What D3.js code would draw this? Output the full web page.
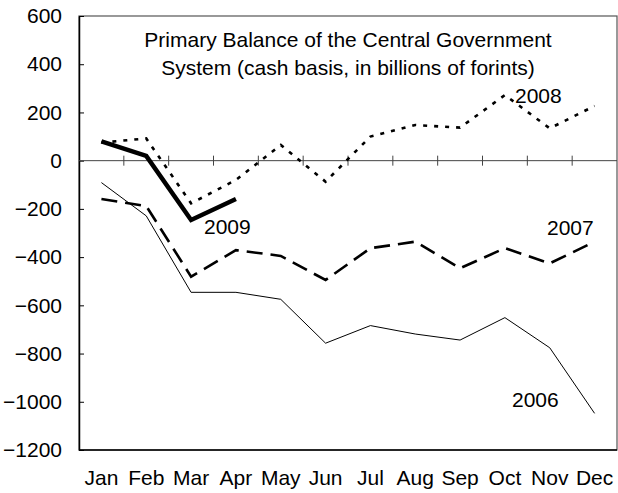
<!DOCTYPE html>
<html>
<head>
  <meta charset="utf-8">
  <title>Primary Balance of the Central Government System</title>
  <script src="https://d3js.org/d3.v7.min.js"></script>
  <style>
    body {
      margin: 0;
      background: #fff;
      font-family: "Liberation Sans", Arial, sans-serif;
    }
    svg text {
      fill: #000;
    }
  </style>
</head>
<body>
  <div id="chart"></div>

  <script>
    // data (billions of forints, cash basis)
    const months = ["Jan", "Feb", "Mar", "Apr", "May", "Jun", "Jul", "Aug", "Sep", "Oct", "Nov", "Dec"];
    const yTicks = [600, 400, 200, 0, -200, -400, -600, -800, -1000, -1200];
    const titleLines = ["Primary Balance of the Central Government", "System (cash basis, in billions of forints)"];

    const v2006 = [-91, -229, -546, -546, -575, -757, -684, -719, -744, -651, -776, -1048];
    const v2007 = [-159, -188, -481, -371, -395, -495, -363, -336, -446, -363, -426, -336];
    const v2008 = [75, 92, -177, -80, 65, -87, 100, 148, 137, 272, 134, 227];
    const v2009 = [80, 20, -246, -159];

    const width = 618;
    const height = 493;
    const margin = { top: 16, right: 1, bottom: 43, left: 79 };
    const fontSize = "21px";

    const svg = d3.select("#chart")
      .append("svg")
      .attr("width", width)
      .attr("height", height);

    const x = d3.scaleBand()
      .domain(months)
      .range([margin.left, width - margin.right]);

    const y = d3.scaleLinear()
      .domain([-1200, 600])
      .range([height - margin.bottom, margin.top]);

    const cx = m => x(m) + x.bandwidth() / 2;

    // frame
    svg.append("rect")
      .attr("x", margin.left)
      .attr("y", margin.top)
      .attr("width", width - margin.right - margin.left)
      .attr("height", height - margin.bottom - margin.top)
      .attr("fill", "none")
      .attr("stroke", "#555")
      .attr("stroke-width", 1.2);

    // y axis, ticks pointing inward
    const yAxis = svg.append("g")
      .attr("transform", `translate(${margin.left},0)`)
      .call(d3.axisLeft(y).tickValues(yTicks).tickSizeInner(-5).tickSizeOuter(0).tickPadding(17).tickFormat(d3.format("d")));
    yAxis.select(".domain").attr("stroke", "#000").attr("stroke-width", 1.5);
    yAxis.selectAll(".tick line").attr("stroke", "#000");
    yAxis.selectAll("text")
      .attr("font-family", "Liberation Sans, Arial, sans-serif")
      .attr("font-size", fontSize)
      .attr("fill", "#000");

    // bottom line
    svg.append("line")
      .attr("x1", margin.left).attr("x2", width - margin.right)
      .attr("y1", y(-1200)).attr("y2", y(-1200))
      .attr("stroke", "#000").attr("stroke-width", 1.5);

    // zero line with month separators
    svg.append("line")
      .attr("x1", margin.left).attr("x2", width - margin.right)
      .attr("y1", y(0)).attr("y2", y(0))
      .attr("stroke", "#444").attr("stroke-width", 1);

    svg.selectAll(".sep")
      .data(months.slice(1))
      .enter().append("line")
      .attr("class", "sep")
      .attr("x1", d => x(d)).attr("x2", d => x(d))
      .attr("y1", y(0) - 5).attr("y2", y(0) + 5)
      .attr("stroke", "#444").attr("stroke-width", 1);

    // month labels
    svg.selectAll(".mlabel")
      .data(months)
      .enter().append("text")
      .attr("class", "mlabel")
      .attr("x", d => cx(d))
      .attr("y", 485)
      .attr("text-anchor", "middle")
      .attr("font-size", fontSize)
      .text(d => d);

    // title
    svg.selectAll(".title")
      .data(titleLines)
      .enter().append("text")
      .attr("class", "title")
      .attr("x", 348)
      .attr("y", (d, i) => 47 + i * 28)
      .attr("text-anchor", "middle")
      .attr("font-size", fontSize)
      .text(d => d);

    // series lines
    const line = d3.line()
      .x((d, i) => cx(months[i]))
      .y(d => y(d));

    const series = [
      { name: "2006", values: v2006, width: 1, dash: null, label: [512, 407] },
      { name: "2007", values: v2007, width: 2.6, dash: "16,8", label: [547, 235] },
      { name: "2008", values: v2008, width: 2.6, dash: "4,7", label: [515, 103] },
      { name: "2009", values: v2009, width: 4.5, dash: null, label: [204, 234] }
    ];

    svg.selectAll(".series")
      .data(series)
      .enter().append("path")
      .attr("class", "series")
      .attr("d", d => line(d.values))
      .attr("fill", "none")
      .attr("stroke", "#000")
      .attr("stroke-width", d => d.width)
      .attr("stroke-dasharray", d => d.dash)
      .attr("stroke-linejoin", "miter");

    svg.selectAll(".slabel")
      .data(series)
      .enter().append("text")
      .attr("class", "slabel")
      .attr("x", d => d.label[0])
      .attr("y", d => d.label[1])
      .attr("font-size", fontSize)
      .text(d => d.name);
  </script>
</body>
</html>
